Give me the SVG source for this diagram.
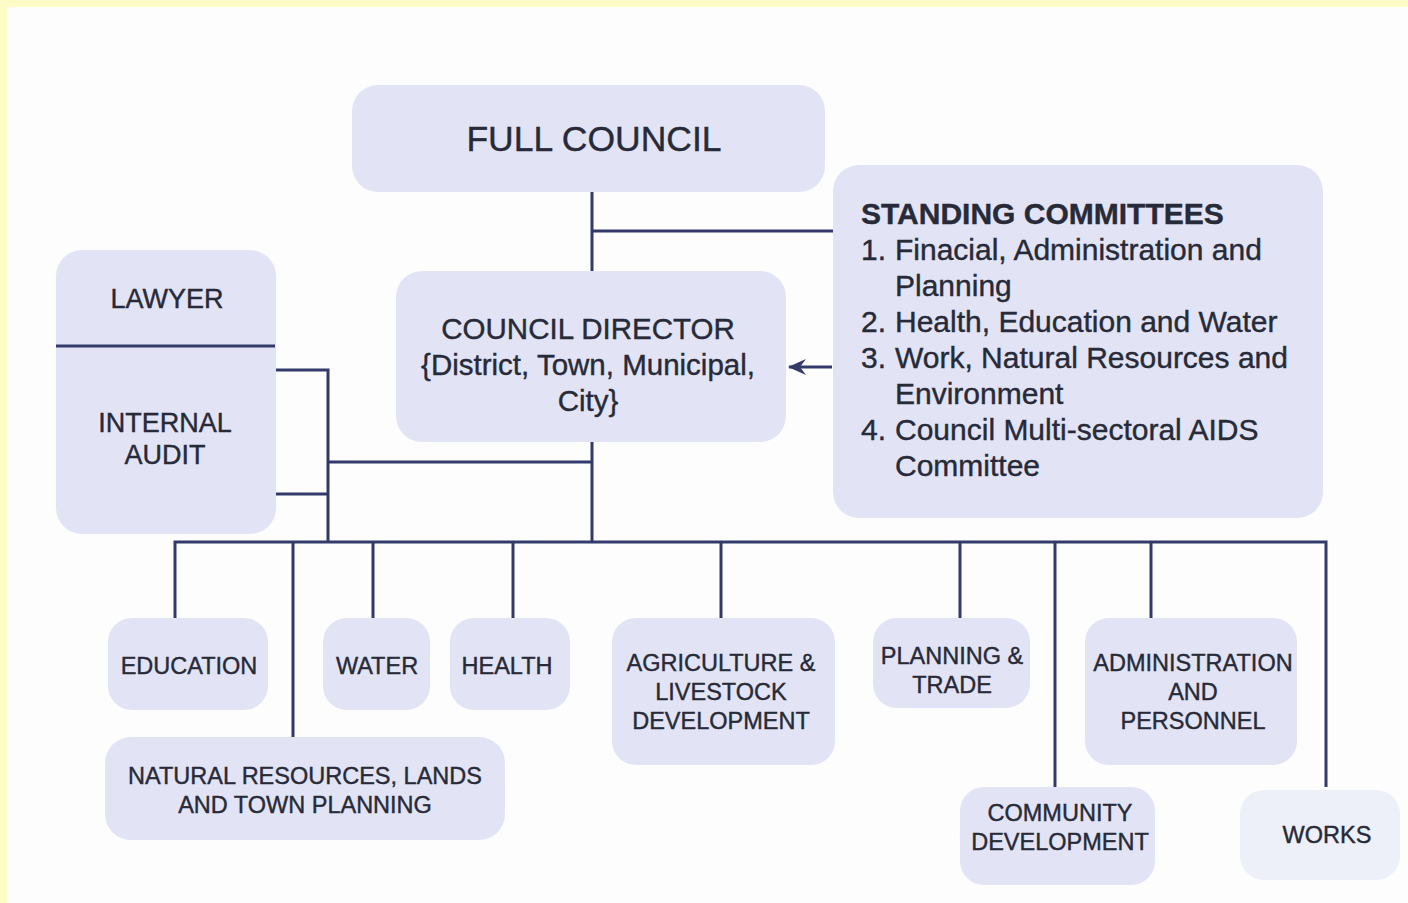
<svg xmlns="http://www.w3.org/2000/svg" width="1408" height="903" viewBox="0 0 1408 903">
<defs>
<style>
.box{fill:#e2e4f5;}
.t{font-family:"Liberation Sans",Arial,sans-serif;fill:#272a38;stroke:#272a38;stroke-width:0.4;text-anchor:middle;}
.s{font-size:23.5px;}
.m{font-size:29.5px;}
.l{font-family:"Liberation Sans",Arial,sans-serif;fill:#272a38;stroke:#272a38;stroke-width:0.4;font-size:30px;}
.c{stroke:#333a6b;stroke-width:3;fill:none;}
</style>
<marker id="ah" viewBox="0 0 18 16" refX="17" refY="8" markerWidth="18" markerHeight="16" markerUnits="userSpaceOnUse" orient="auto">
<path d="M18,8 L0,0 L6,8 L0,16 Z" fill="#333a6b"/>
</marker>
</defs>
<rect x="0" y="0" width="1408" height="903" fill="#fdfdfd"/>
<rect x="0" y="0" width="1408" height="7" fill="#fefcc6"/>
<rect x="0" y="0" width="7" height="903" fill="#fefcc6"/>

<g id="full-council">
<rect class="box" x="352" y="85" width="473" height="107" rx="26"/>
<text class="t" x="594" y="151" font-size="35.5">FULL COUNCIL</text>
</g>
<g id="standing-committees">
<rect class="box" x="833" y="165" width="490" height="353" rx="26"/>
<text class="l" x="861" y="224" font-weight="bold" font-size="29.3">STANDING COMMITTEES</text>
<text class="l" x="861" y="260">1.</text><text class="l" x="895" y="260">Finacial, Administration and</text>
<text class="l" x="895" y="296">Planning</text>
<text class="l" x="861" y="332">2.</text><text class="l" x="895" y="332">Health, Education and Water</text>
<text class="l" x="861" y="368">3.</text><text class="l" x="895" y="368">Work, Natural Resources and</text>
<text class="l" x="895" y="404">Environment</text>
<text class="l" x="861" y="440">4.</text><text class="l" x="895" y="440">Council Multi-sectoral AIDS</text>
<text class="l" x="895" y="476">Committee</text>
</g>
<g id="council-director">
<rect class="box" x="396" y="271" width="390" height="171" rx="26"/>
<text class="t m" x="588" y="339">COUNCIL DIRECTOR</text>
<text class="t m" x="588" y="375">{District, Town, Municipal,</text>
<text class="t m" x="588" y="411">City}</text>
</g>
<g id="lawyer-audit">
<rect class="box" x="56" y="250" width="220" height="284" rx="26"/>
<line x1="56" y1="346" x2="275" y2="346" stroke="#333a6b" stroke-width="3"/>
<text class="t" x="167" y="308" font-size="27">LAWYER</text>
<text class="t" x="165" y="432" font-size="27">INTERNAL</text>
<text class="t" x="165" y="464" font-size="27">AUDIT</text>
</g>
<g id="education">
<rect class="box" x="108" y="618" width="160" height="92" rx="24"/>
<text class="t s" x="189" y="674">EDUCATION</text>
</g>
<g id="water">
<rect class="box" x="323" y="618" width="107" height="92" rx="24"/>
<text class="t s" x="377" y="674">WATER</text>
</g>
<g id="health">
<rect class="box" x="450" y="618" width="120" height="92" rx="24"/>
<text class="t s" x="507" y="674">HEALTH</text>
</g>
<g id="agriculture">
<rect class="box" x="612" y="618" width="223" height="147" rx="24"/>
<text class="t s" x="721" y="671">AGRICULTURE &amp;</text>
<text class="t s" x="721" y="700">LIVESTOCK</text>
<text class="t s" x="721" y="729">DEVELOPMENT</text>
</g>
<g id="planning-trade">
<rect class="box" x="873" y="618" width="157" height="90" rx="24"/>
<text class="t s" x="952" y="664">PLANNING &amp;</text>
<text class="t s" x="952" y="693">TRADE</text>
</g>
<g id="administration">
<rect class="box" x="1085" y="618" width="212" height="147" rx="24"/>
<text class="t s" x="1193" y="671">ADMINISTRATION</text>
<text class="t s" x="1193" y="700">AND</text>
<text class="t s" x="1193" y="729">PERSONNEL</text>
</g>
<g id="natural-resources">
<rect class="box" x="105" y="737" width="400" height="103" rx="26"/>
<text class="t s" x="305" y="784">NATURAL RESOURCES, LANDS</text>
<text class="t s" x="305" y="813">AND TOWN PLANNING</text>
</g>
<g id="community">
<rect class="box" x="960" y="787" width="195" height="98" rx="24"/>
<text class="t s" x="1060" y="821">COMMUNITY</text>
<text class="t s" x="1060" y="850">DEVELOPMENT</text>
</g>
<g id="works">
<rect x="1240" y="790" width="160" height="90" rx="24" fill="#eef0f9"/>
<text class="t s" x="1327" y="843">WORKS</text>
</g>

<g id="connectors">
<path class="c" d="M592,192 V271"/>
<path class="c" d="M592,231 H833"/>
<path class="c" d="M832,367 H789" marker-end="url(#ah)"/>
<path class="c" d="M592,442 V542"/>
<path class="c" d="M328,462 H592"/>
<path class="c" d="M276,370 H328 V542"/>
<path class="c" d="M276,494 H328"/>
<path class="c" d="M175,618 V542 H1326 V787"/>
<path class="c" d="M293,542 V737"/>
<path class="c" d="M373,542 V618"/>
<path class="c" d="M513,542 V618"/>
<path class="c" d="M721,542 V618"/>
<path class="c" d="M960,542 V618"/>
<path class="c" d="M1055,542 V787"/>
<path class="c" d="M1151,542 V618"/>
</g>
</svg>
